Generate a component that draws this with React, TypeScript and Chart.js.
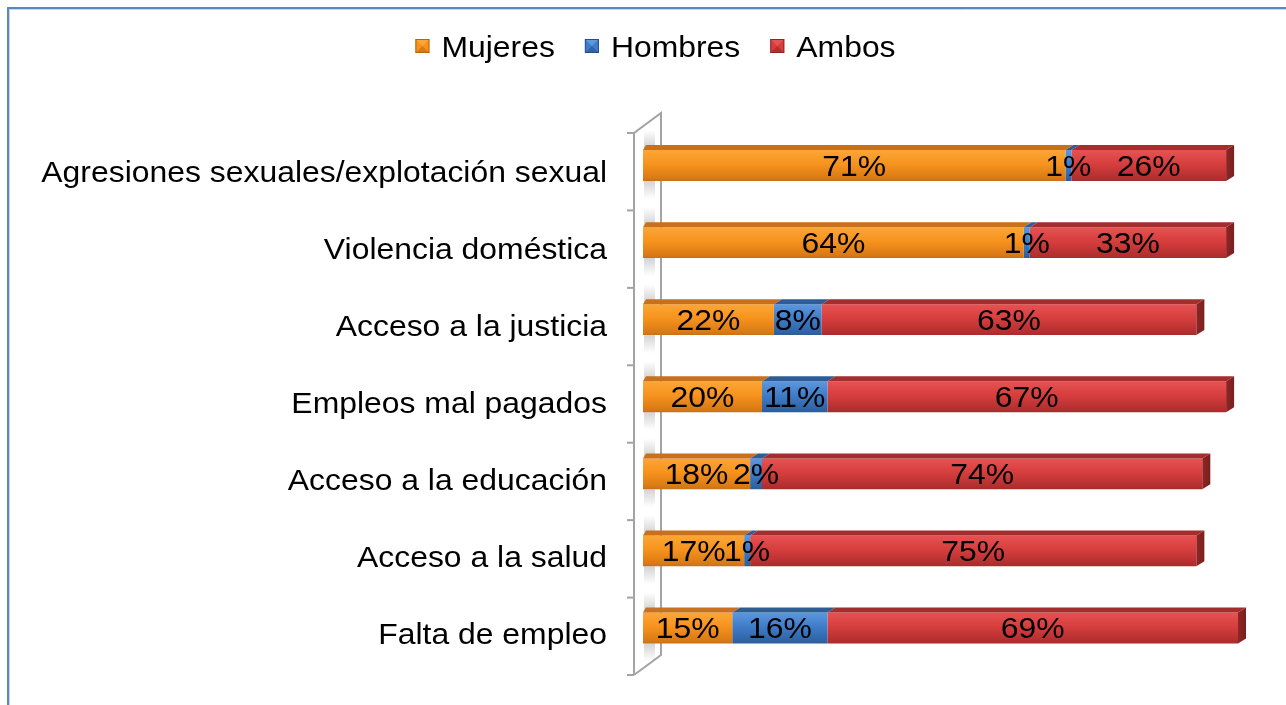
import { useEffect, useRef } from "react";
import { Chart, registerables } from "chart.js";

Chart.register(...registerables);

const categories = [
  "Agresiones sexuales/explotación sexual",
  "Violencia doméstica",
  "Acceso a la justicia",
  "Empleos mal pagados",
  "Acceso a la educación",
  "Acceso a la salud",
  "Falta de empleo",
];
const seriesNames = ["Mujeres", "Hombres", "Ambos"];
const mujeres = [71, 64, 22, 20, 18, 17, 15];
const hombres = [1, 1, 8, 11, 2, 1, 16];
const ambos = [26, 33, 63, 67, 74, 75, 69];

const FONT = "'Liberation Sans', Arial, sans-serif";
const FONT_PX = 29;
const SX = 1.1;

const palette = [
  { light: "#FBA637", mid: "#F7931E", dark: "#D97A14", top: "#C8701A", cap: "#B8640F" },
  { light: "#5C98DE", mid: "#3F7DC9", dark: "#2F64A6", top: "#2E5C97", cap: "#284F85" },
  { light: "#E65252", mid: "#D73E3E", dark: "#B32F2F", top: "#A52D2D", cap: "#8E2626" },
];

const DX = 8;
const DY = 5;

function drawScaledText(ctx: CanvasRenderingContext2D, text: string, x: number, y: number, align: CanvasTextAlign) {
  ctx.save();
  ctx.translate(x, y);
  ctx.scale(SX, 1);
  ctx.textAlign = align;
  ctx.textBaseline = "alphabetic";
  ctx.fillText(text, 0, 0);
  ctx.restore();
}

const decoPlugin = {
  id: "deco",
  beforeDatasetsDraw(chart: any) {
    const ctx: CanvasRenderingContext2D = chart.ctx;
    const area = chart.chartArea;
    const ys = chart.scales.y;
    ctx.save();
    // frame
    ctx.strokeStyle = "#5B86C0";
    ctx.lineWidth = 2;
    ctx.beginPath();
    ctx.moveTo(1290, 8);
    ctx.lineTo(8, 8);
    ctx.lineTo(8, 710);
    ctx.stroke();
    ctx.strokeStyle = "#C5D5EA";
    ctx.lineWidth = 1;
    ctx.beginPath();
    ctx.moveTo(1290, 9.5);
    ctx.lineTo(9.5, 9.5);
    ctx.lineTo(9.5, 710);
    ctx.stroke();

    // wall shadows
    const band = ys.height / categories.length;
    const half = (band * 0.4) / 2;
    categories.forEach((_, i) => {
      const yc = ys.getPixelForValue(i);
      const t = yc - half;
      const b = yc + half;
      let g = ctx.createLinearGradient(0, t - 20, 0, t);
      g.addColorStop(0, "rgba(110,110,110,0)");
      g.addColorStop(1, "rgba(110,110,110,0.35)");
      ctx.fillStyle = g;
      ctx.fillRect(area.left + 1, t - 20, 11, 20);
      g = ctx.createLinearGradient(0, b, 0, b + 18);
      g.addColorStop(0, "rgba(110,110,110,0.3)");
      g.addColorStop(1, "rgba(110,110,110,0)");
      ctx.fillStyle = g;
      ctx.fillRect(area.left + 1, b, 11, 18);
    });

    // wall
    const fx = area.left - 9;
    const bx = area.left + 18;
    const ft = area.top + 6;
    const fb = area.bottom + 8.5;
    const wdy = 20;
    ctx.strokeStyle = "#A3A3A3";
    ctx.lineWidth = 2;
    ctx.beginPath();
    ctx.moveTo(fx, fb);
    ctx.lineTo(fx, ft);
    ctx.lineTo(bx, ft - wdy);
    ctx.lineTo(bx, fb - wdy);
    ctx.lineTo(fx, fb);
    ctx.stroke();
    const n = categories.length;
    for (let k = 0; k <= n; k++) {
      const ty = ft + ((fb - ft) * k) / n;
      ctx.beginPath();
      ctx.moveTo(fx - 7, ty);
      ctx.lineTo(fx, ty);
      ctx.stroke();
    }
    ctx.restore();
  },
  afterDatasetsDraw(chart: any) {
    const ctx: CanvasRenderingContext2D = chart.ctx;
    const ys = chart.scales.y;
    const nds = chart.data.datasets.length;
    ctx.save();
    // 3D top strips and cap
    for (let i = 0; i < categories.length; i++) {
      for (let di = 0; di < nds; di++) {
        const el: any = chart.getDatasetMeta(di).data[i];
        const p = el.getProps(["x", "y", "base", "height"], true);
        const top = p.y - p.height / 2;
        const bottom = p.y + p.height / 2;
        const left = Math.min(p.x, p.base);
        const right = Math.max(p.x, p.base);
        if (right - left < 0.5) continue;
        ctx.fillStyle = palette[di].top;
        ctx.beginPath();
        ctx.moveTo(left, top);
        ctx.lineTo(left + (di === 0 ? 3 : DX), top - DY);
        ctx.lineTo(right + DX, top - DY);
        ctx.lineTo(right, top);
        ctx.closePath();
        ctx.fill();
        if (di === nds - 1) {
          const g = ctx.createLinearGradient(right, 0, right + DX, 0);
          g.addColorStop(0, palette[di].cap);
          g.addColorStop(1, "#7A1F1F");
          ctx.fillStyle = g;
          ctx.beginPath();
          ctx.moveTo(right, top);
          ctx.lineTo(right + DX, top - DY);
          ctx.lineTo(right + DX, bottom - DY);
          ctx.lineTo(right, bottom);
          ctx.closePath();
          ctx.fill();
        }
      }
    }
    // data labels
    ctx.fillStyle = "#000";
    ctx.font = `${FONT_PX}px ${FONT}`;
    for (let di = 0; di < nds; di++) {
      const meta = chart.getDatasetMeta(di);
      const data = chart.data.datasets[di].data as number[];
      meta.data.forEach((el: any, i: number) => {
        const p = el.getProps(["x", "y", "base"], true);
        drawScaledText(ctx, `${data[i]}%`, (p.x + p.base) / 2, p.y + 10.5, "center");
      });
    }
    // category labels
    categories.forEach((c, i) => {
      const y = ys.getPixelForValue(i) + 6;
      drawScaledText(ctx, c, 607, y + 10.5, "right");
    });
    // legend
    const markers = [0, 1, 2];
    const widths = seriesNames.map((s) => ctx.measureText(s).width * SX);
    const mk = 14;
    const gap = 12;
    const spacing = 30;
    const total = widths.reduce((a, w) => a + mk + gap + w, 0) + spacing * (seriesNames.length - 1);
    let x = 655.5 - total / 2;
    const ly = 46;
    markers.forEach((di) => {
      const c = palette[di];
      ctx.fillStyle = c.mid;
      ctx.fillRect(x, ly - mk / 2, mk, mk);
      ctx.fillStyle = c.light;
      ctx.beginPath();
      ctx.moveTo(x, ly - mk / 2);
      ctx.lineTo(x + mk, ly - mk / 2);
      ctx.lineTo(x + mk / 2, ly);
      ctx.closePath();
      ctx.fill();
      ctx.fillStyle = c.dark;
      ctx.beginPath();
      ctx.moveTo(x, ly + mk / 2);
      ctx.lineTo(x + mk, ly + mk / 2);
      ctx.lineTo(x + mk / 2, ly);
      ctx.closePath();
      ctx.fill();
      ctx.strokeStyle = c.cap;
      ctx.lineWidth = 1;
      ctx.strokeRect(x + 0.5, ly - mk / 2 + 0.5, mk - 1, mk - 1);
      ctx.fillStyle = "#000";
      drawScaledText(ctx, seriesNames[di], x + mk + gap, ly + 10.5, "left");
      x += mk + gap + widths[di] + spacing;
    });
    ctx.restore();
  },
};

function faceGradient(di: number) {
  return (c: any) => {
    const chart = c.chart;
    const ys = chart.scales && chart.scales.y;
    const col = palette[di];
    if (!ys || c.dataIndex === undefined || !chart.chartArea) return col.mid;
    const yc = ys.getPixelForValue(c.dataIndex);
    const h = ((ys.height / categories.length) * 0.4) / 2;
    const g = chart.ctx.createLinearGradient(0, yc - h, 0, yc + h);
    g.addColorStop(0, col.light);
    g.addColorStop(0.45, col.mid);
    g.addColorStop(0.9, col.dark);
    g.addColorStop(1, col.top);
    return g;
  };
}

export default function App() {
  const ref = useRef<HTMLCanvasElement | null>(null);
  useEffect(() => {
    if (!ref.current) return;
    Chart.defaults.font.family = FONT;
    const values = [mujeres, hombres, ambos];
    const chart = new Chart(ref.current, {
      type: "bar",
      data: {
        labels: categories,
        datasets: values.map((v, di) => ({
          label: seriesNames[di],
          data: v,
          backgroundColor: faceGradient(di),
          borderWidth: 0,
          barPercentage: 0.4,
          categoryPercentage: 1,
        })),
      },
      options: {
        animation: false,
        responsive: false,
        devicePixelRatio: 1,
        indexAxis: "y",
        layout: { padding: { left: 643, right: 48, top: 127, bottom: 38.5 } },
        scales: {
          x: { stacked: true, min: 0, max: 100, display: false },
          y: { stacked: true, display: false },
        },
        plugins: { legend: { display: false }, tooltip: { enabled: false } },
      },
      plugins: [decoPlugin],
    } as any);
    return () => chart.destroy();
  }, []);
  return (
    <div style={{ position: "fixed", left: 0, top: 0, width: 1286, height: 705, background: "#fff" }}>
      <canvas ref={ref} width={1286} height={705} style={{ display: "block" }} />
    </div>
  );
}
